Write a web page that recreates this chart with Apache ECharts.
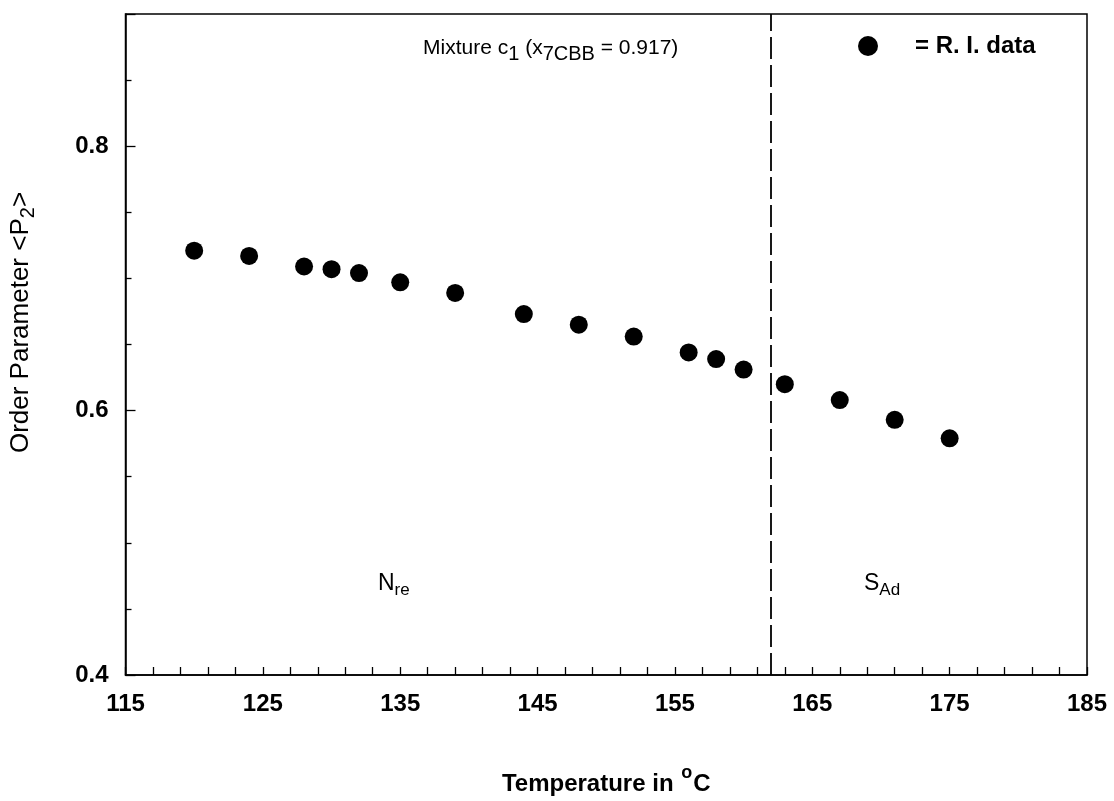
<!DOCTYPE html>
<html>
<head>
<meta charset="utf-8">
<script src="https://cdn.jsdelivr.net/npm/echarts@6/dist/echarts.min.js"></script>
<style>
html,body{margin:0;padding:0;background:#fff;}
#chart{width:1114px;height:801px;}
</style>
</head>
<body>
<div id="chart"></div>
<script>
const temperatures = [120, 124, 128, 130, 132, 135, 139, 144, 148, 152, 156, 158, 160, 163, 167, 171, 175];
const orderParam = [0.721, 0.717, 0.709, 0.707, 0.704, 0.697, 0.689, 0.673, 0.665, 0.656, 0.644, 0.639, 0.631, 0.620, 0.608, 0.593, 0.579];
const transitionTemp = 162;
const xTicks = [115, 125, 135, 145, 155, 165, 175, 185];
const yTicks = [0.4, 0.6, 0.8];

const font = '"Liberation Sans", Arial, sans-serif';
const chart = echarts.init(document.getElementById('chart'));
const points = temperatures.map((t, i) => [t, orderParam[i]]);

chart.setOption({
  animation: false,
  backgroundColor: '#fff',
  grid: {left: 124, right: 27, top: 14, bottom: 115, show: true, borderColor: '#000', borderWidth: 1.5, backgroundColor: 'transparent'},
  legend: {
    show: true, left: 853, top: 29, itemWidth: 20, itemHeight: 20, icon: 'circle',
    data: [{name: 'R. I. data', itemStyle: {color: '#000', opacity: 1}}],
    formatter: () => '= R. I. data',
    textStyle: {fontFamily: font, fontSize: 24, fontWeight: 'bold', color: '#000', padding: [0, 0, 0, 32]}
  },
  xAxis: {
    type: 'value', min: 115, max: 185, interval: 10,
    name: '{t|Temperature in }{sup|o}{t|C}', nameLocation: 'middle', nameGap: 89,
    nameTextStyle: {rich: {
      t: {fontFamily: font, fontSize: 24, fontWeight: 'bold', color: '#000', verticalAlign: 'bottom'},
      sup: {fontFamily: font, fontSize: 18, fontWeight: 'bold', color: '#000', verticalAlign: 'top', padding: [0, 1, 14, 1]}}},
    axisLine: {show: true, lineStyle: {color: '#000', width: 1.5}},
    axisTick: {show: true, inside: true, length: 8, lineStyle: {color: '#000', width: 1.3}},
    minorTick: {show: true, splitNumber: 5, length: 8, lineStyle: {color: '#000', width: 1.3}},
    splitLine: {show: false},
    axisLabel: {fontFamily: font, fontSize: 24, fontWeight: 'bold', color: '#000', margin: 17,
      formatter: v => xTicks.includes(v) ? String(v) : ''}
  },
  yAxis: {
    type: 'value', min: 0.4, max: 0.9, interval: 0.2,
    name: '{t|Order Parameter <P}{sub|2}{t|>}', nameLocation: 'middle', nameGap: 87, nameRotate: 90,
    nameTextStyle: {padding: [0, 0, 0, 44], rich: {
      t: {fontFamily: font, fontSize: 26, color: '#000'},
      sub: {fontFamily: font, fontSize: 20, color: '#000', padding: [15, 0, 0, 0]}}},
    axisLine: {show: true, lineStyle: {color: '#000', width: 1.5}},
    axisTick: {show: true, inside: true, length: 10, lineStyle: {color: '#000', width: 1.3}},
    minorTick: {show: true, splitNumber: 4, length: 6, lineStyle: {color: '#000', width: 1.3}},
    splitLine: {show: false},
    axisLabel: {fontFamily: font, fontSize: 24, fontWeight: 'bold', color: '#000', margin: 17, showMaxLabel: false,
      formatter: v => { const m = yTicks.find(t => Math.abs(t - v) < 1e-9); return m !== undefined ? m.toFixed(1) : ''; }}
  },
  series: [{
    name: 'R. I. data', type: 'scatter', data: points, symbol: 'circle', symbolSize: 18,
    itemStyle: {color: '#000', opacity: 1},
    markLine: {
      silent: true, symbol: ['none', 'none'], label: {show: false},
      lineStyle: {color: '#000', type: [22, 6], width: 1.8},
      data: [{xAxis: transitionTemp}]
    }
  }],
  graphic: [
    {type: 'text', left: 423, top: 38, style: {
      text: '{m|Mixture c}{s|1}{m| (x}{s|7CBB}{m| = 0.917)}',
      rich: {m: {fontFamily: font, fontSize: 21, fill: '#000'}, s: {fontFamily: font, fontSize: 20, fill: '#000', padding: [12, 0, 0, 0]}}}},
    {type: 'text', left: 378, top: 572, style: {
      text: '{m|N}{s|re}', rich: {m: {fontFamily: font, fontSize: 23, fill: '#000'}, s: {fontFamily: font, fontSize: 17, fill: '#000', padding: [14, 0, 0, 0]}}}},
    {type: 'text', left: 864, top: 572, style: {
      text: '{m|S}{s|Ad}', rich: {m: {fontFamily: font, fontSize: 23, fill: '#000'}, s: {fontFamily: font, fontSize: 17, fill: '#000', padding: [14, 0, 0, 0]}}}}
  ]
});
</script>
</body>
</html>
